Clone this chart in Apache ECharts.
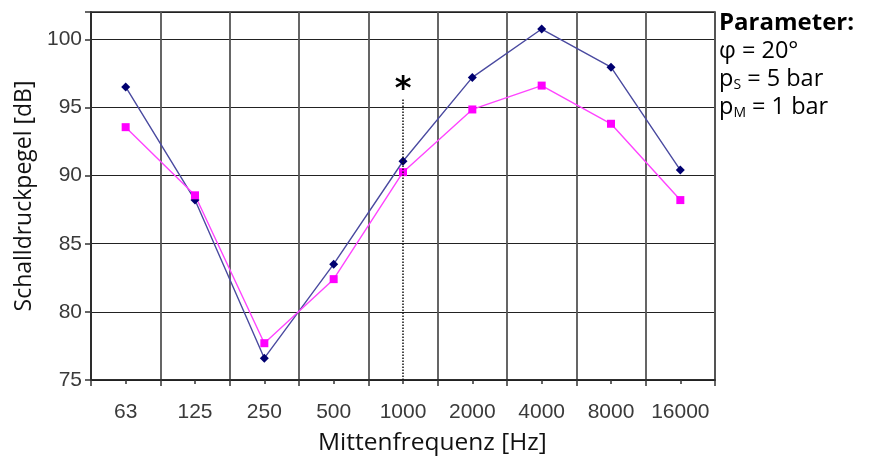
<!DOCTYPE html>
<html><head><meta charset="utf-8">
<script src="https://cdn.jsdelivr.net/npm/echarts@6/dist/echarts.min.js"></script>
<style>html,body{margin:0;padding:0;background:#fff}#c{width:869px;height:459px}</style>
</head><body><div id="c"></div>
<script>
const categories = ['63','125','250','500','1000','2000','4000','8000','16000'];
const seriesBlue = [96.5, 88.2, 76.6, 83.5, 91.05, 97.2, 100.75, 97.95, 90.4];
const seriesMagenta = [93.55, 88.55, 77.7, 82.4, 90.25, 94.85, 96.6, 93.8, 88.2];
const yTicks = [75, 80, 85, 90, 95, 100];
const markerFreq = '1000';
const markerLineTop = 95.6;
const asteriskLevel = 96.3;

const chart = echarts.init(document.getElementById('c'), null, {renderer: 'canvas'});
const labelFont = {fontFamily: 'Liberation Sans', fontSize: 21, color: '#3a3a3a'};
chart.setOption({
  animation: false,
  grid: {left: 91, right: 154, top: 12, bottom: 79, show: true, borderColor: '#222', borderWidth: 1.5, backgroundColor: 'transparent'},
  xAxis: [{
    type: 'category', data: categories, boundaryGap: true,
    axisLine: {show: true, lineStyle: {color: '#222', width: 1.5}},
    axisTick: {show: true, length: 6, alignWithLabel: false, lineStyle: {color: '#333', width: 1.5}},
    axisLabel: Object.assign({margin: 22, interval: 0}, labelFont),
    splitLine: {show: true, lineStyle: {color: '#555', width: 1.8}}
  }, {
    type: 'category', data: categories, boundaryGap: true, position: 'bottom',
    axisLine: {show: false},
    axisTick: {show: true, length: 4, alignWithLabel: true, lineStyle: {color: '#333', width: 1.5}},
    axisLabel: {show: false}, splitLine: {show: false}
  }],
  yAxis: {
    type: 'value', min: 75, max: 102, interval: 5,
    name: 'Schalldruckpegel [dB]', nameLocation: 'middle', nameGap: 47,
    nameTextStyle: {fontFamily: 'Open Sans', fontSize: 23, color: '#111'},
    axisLine: {show: true, lineStyle: {color: '#222', width: 1.5}},
    axisTick: {show: true, length: 6, lineStyle: {color: '#333', width: 1.5}},
    axisLabel: Object.assign({margin: 9, formatter: v => yTicks.includes(v) ? String(v) : ''}, labelFont),
    splitLine: {show: true, lineStyle: {color: '#222', width: 1.2}}
  },
  series: [{
    name: 'blue', type: 'line', data: seriesBlue,
    symbol: 'diamond', symbolSize: 9,
    itemStyle: {color: '#000070'}, lineStyle: {color: '#4a4aa0', width: 1.4},
    markLine: {
      silent: true, symbol: 'none',
      lineStyle: {color: '#111', type: 'dotted', width: 1.5},
      label: {show: false},
      data: [[{coord: [markerFreq, 75]}, {coord: [markerFreq, markerLineTop]}]]
    },
    markPoint: {
      silent: true, symbol: 'circle', symbolSize: 1, itemStyle: {color: 'transparent'},
      label: {show: true, formatter: '*', fontFamily: 'DejaVu Sans', fontWeight: 'bold', fontSize: 32, color: '#000', position: 'inside'},
      data: [{coord: [markerFreq, asteriskLevel]}]
    }
  }, {
    name: 'magenta', type: 'line', data: seriesMagenta,
    symbol: 'rect', symbolSize: 8,
    itemStyle: {color: '#ff00ff'}, lineStyle: {color: '#ff44ff', width: 1.4}
  }],
  graphic: [{
    type: 'text', left: 318, top: 431,
    style: {text: 'Mittenfrequenz [Hz]', fontFamily: 'Open Sans', fontSize: 24.5, fill: '#111'}
  }, {
    type: 'text', left: 719, top: 11,
    style: {
      text: '{b|Parameter:}\n{n|φ = 20°}\n{n|p}{s|S}{n| = 5 bar}\n{n|p}{s|M}{n| = 1 bar}',
      rich: {
        b: {fontFamily: 'Open Sans', fontWeight: 'bold', fontSize: 24, fill: '#000', lineHeight: 29},
        n: {fontFamily: 'Open Sans', fontSize: 23.5, fill: '#000', lineHeight: 28},
        s: {fontFamily: 'Open Sans', fontSize: 14, fill: '#000', lineHeight: 28, padding: [11, 0, 0, 0]}
      }
    }
  }]
});
</script></body></html>
